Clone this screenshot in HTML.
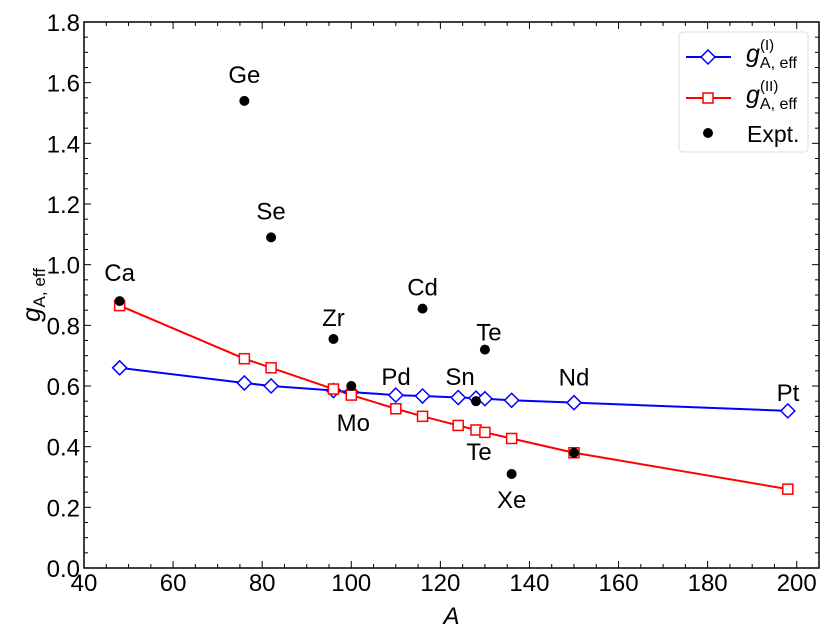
<!DOCTYPE html>
<html><head><meta charset="utf-8"><style>
body{margin:0;background:#fff}
svg{display:block;font-family:"Liberation Sans",sans-serif}
</style></head><body>
<svg id="c" width="831" height="641"></svg>
<script>
const A = [48,76,82,96,100,110,116,124,128,130,136,150,198];
const gI = [0.66,0.61,0.60,0.585,0.58,0.57,0.567,0.562,0.56,0.558,0.553,0.545,0.518];
const gII = [0.865,0.69,0.66,0.59,0.57,0.525,0.50,0.47,0.455,0.447,0.427,0.38,0.26];
const exA = [48,76,82,96,100,116,128,130,136,150];
const exG = [0.88,1.54,1.09,0.755,0.60,0.855,0.55,0.72,0.31,0.38];
const exLabels = ["Ca","Ge","Se","Zr","Mo","Cd","Te","Te","Xe","Nd"];
const xTicks = [40,60,80,100,120,140,160,180,200];
const yTicks = [0.0,0.2,0.4,0.6,0.8,1.0,1.2,1.4,1.6,1.8];
// label pixel offsets from their expt point
const labDx = [0,0,0,0,2,0,3,4,0,0];
const labDy = [-20,-18,-18,-13,45,-13,59,-9,34,-67];
const L=84,R=819,T=22,B=568,X0=40,X1=205,Y0=0,Y1=1.8;
const sx=v=>L+(v-X0)/(X1-X0)*(R-L);
const sy=v=>B-(v-Y0)/(Y1-Y0)*(B-T);
const svg=document.getElementById('c');const NS='http://www.w3.org/2000/svg';
function mk(t,a,p){const e=document.createElementNS(NS,t);for(const k in a)e.setAttribute(k,a[k]);(p||svg).appendChild(e);return e;}
for(let v=40;v<=205;v+=5){const big=v%20==0;const x=sx(v);
 mk('line',{x1:x,y1:B,x2:x,y2:B-(big?7:4),stroke:'#000','stroke-width':1});
 mk('line',{x1:x,y1:T,x2:x,y2:T+(big?7:4),stroke:'#000','stroke-width':1});}
for(let i=0;i<=36;i++){const v=i*0.05;const big=i%4==0;const y=sy(v);
 mk('line',{x1:L,y1:y,x2:L+(big?7:4),y2:y,stroke:'#000','stroke-width':1});
 mk('line',{x1:R,y1:y,x2:R-(big?7:4),y2:y,stroke:'#000','stroke-width':1});}
xTicks.forEach(v=>{const t=mk('text',{x:sx(v),y:B+23,'text-anchor':'middle','font-size':24});t.textContent=v;

});
yTicks.forEach(v=>{const t=mk('text',{x:L-4,y:sy(v)+9,'text-anchor':'end','font-size':24});t.textContent=v.toFixed(1);

});
const fr=mk('rect',{x:L,y:T,width:R-L,height:B-T,fill:'none',stroke:'#000','stroke-width':1.5});


const xt=mk('text',{x:(L+R)/2,y:624,'text-anchor':'middle','font-size':24,'font-style':'italic'});xt.textContent='A';


const yt=mk('text',{transform:'translate(40,295) rotate(-90)','text-anchor':'middle','font-size':26});
yt.innerHTML='<tspan font-style="italic">g</tspan><tspan font-size="17" dy="5">A, eff</tspan>';


function line(ys,col,name){const pl=mk('polyline',{points:A.map((a,i)=>sx(a)+','+sy(ys[i])).join(' '),fill:'none',stroke:col,'stroke-width':2});

}
line(gI,'#0000ff','series-I-line');line(gII,'#ff0000','series-II-line');
A.forEach((a,i)=>{const x=sx(a),y=sy(gI[i]);const d=mk('polygon',{points:`${x},${y-7} ${x+7},${y} ${x},${y+7} ${x-7},${y}`,fill:'#fff',stroke:'#0000ff','stroke-width':1.5});

});
A.forEach((a,i)=>{const x=sx(a),y=sy(gII[i]);const r=mk('rect',{x:x-5,y:y-5,width:10,height:10,fill:'#fff',stroke:'#ff0000','stroke-width':1.5});

});
exA.forEach((a,i)=>{const c=mk('circle',{cx:sx(a),cy:sy(exG[i]),r:5,fill:'#000'});

});
exLabels.forEach((n,i)=>{const t=mk('text',{x:sx(exA[i])+labDx[i],y:sy(exG[i])+labDy[i],'text-anchor':'middle','font-size':24});t.textContent=n;

});
[["Pd",396,385],["Sn",460,385],["Pt",788,401]].forEach(l=>{const t=mk('text',{x:l[1],y:l[2],'text-anchor':'middle','font-size':24});t.textContent=l[0];

});
const lg=mk('g',{});


mk('rect',{x:679,y:32,width:129,height:120,rx:4,fill:'#fff',stroke:'#ddd','stroke-width':1},lg);
mk('line',{x1:686,y1:57,x2:731,y2:57,stroke:'#0000ff','stroke-width':2},lg);
mk('polygon',{points:'708,50 715,57 708,64 701,57',fill:'#fff',stroke:'#0000ff','stroke-width':1.5},lg);
mk('line',{x1:686,y1:98,x2:731,y2:98,stroke:'#ff0000','stroke-width':2},lg);
mk('rect',{x:703,y:93,width:10,height:10,fill:'#fff',stroke:'#ff0000','stroke-width':1.5},lg);
mk('circle',{cx:708,cy:133,r:5,fill:'#000'},lg);
const t1=mk('text',{x:746,y:62,'font-size':25},lg);t1.innerHTML='<tspan font-style="italic">g</tspan><tspan font-size="16" dy="6">A, eff</tspan>';
const s1=mk('text',{x:760,y:50,'font-size':15},lg);s1.textContent='(I)';
const t2=mk('text',{x:746,y:103,'font-size':25},lg);t2.innerHTML='<tspan font-style="italic">g</tspan><tspan font-size="16" dy="6">A, eff</tspan>';
const s2=mk('text',{x:760,y:91,'font-size':15},lg);s2.textContent='(II)';
const t3=mk('text',{x:747,y:142,'font-size':23},lg);t3.textContent='Expt.';
</script>
</body></html>
